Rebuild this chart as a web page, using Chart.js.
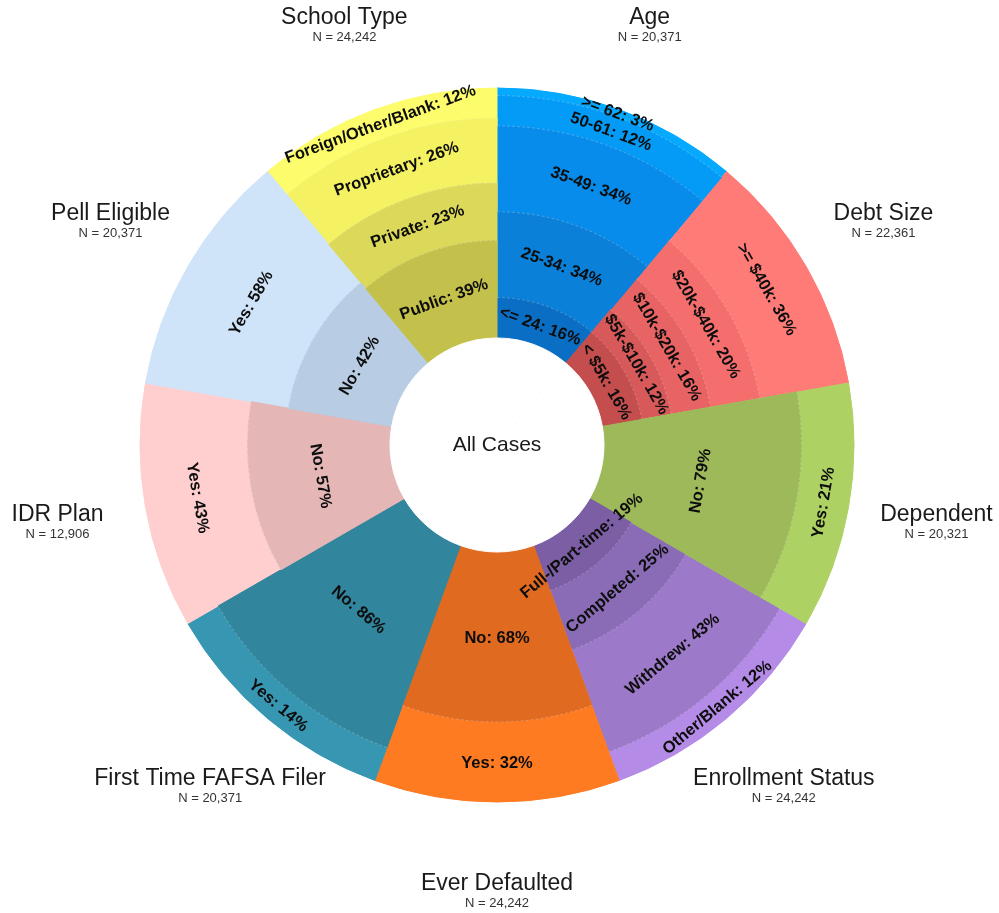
<!DOCTYPE html>
<html>
<head>
<meta charset="utf-8">
<script src="https://cdn.jsdelivr.net/npm/chart.js@4.4.0/dist/chart.umd.min.js"></script>
<style>
  html, body { margin: 0; padding: 0; background: #fff; }
  #wrap { width: 999px; height: 913px; }
</style>
</head>
<body>
<div id="wrap"><canvas id="chart" width="999" height="913"></canvas></div>
<script>
// categories go clockwise from 12 o'clock, each gets 40 degrees
const categories = ["Age", "Debt Size", "Dependent", "Enrollment Status", "Ever Defaulted",
  "First Time FAFSA Filer", "IDR Plan", "Pell Eligible", "School Type"];
const sampleSizes = ["20,371", "22,361", "20,321", "24,242", "24,242", "20,371", "12,906", "20,371", "24,242"];

// levels inside each wedge, innermost first
const ageLevels = ["<= 24", "25-34", "35-49", "50-61", ">= 62"];
const agePct = [16, 34, 34, 12, 3];
const debtLevels = ["< $5k", "$5k-$10k", "$10k-$20k", "$20k-$40k", ">= $40k"];
const debtPct = [16, 12, 16, 20, 36];
const dependentLevels = ["No", "Yes"];
const dependentPct = [79, 21];
const enrollmentLevels = ["Full-/Part-time", "Completed", "Withdrew", "Other/Blank"];
const enrollmentPct = [19, 25, 43, 12];
const defaultedLevels = ["No", "Yes"];
const defaultedPct = [68, 32];
const fafsaLevels = ["No", "Yes"];
const fafsaPct = [86, 14];
const idrLevels = ["No", "Yes"];
const idrPct = [57, 43];
const pellLevels = ["No", "Yes"];
const pellPct = [42, 58];
const schoolLevels = ["Public", "Private", "Proprietary", "Foreign/Other/Blank"];
const schoolPct = [39, 23, 26, 12];

const levelNames = [ageLevels, debtLevels, dependentLevels, enrollmentLevels, defaultedLevels,
  fafsaLevels, idrLevels, pellLevels, schoolLevels];
const levelPcts = [agePct, debtPct, dependentPct, enrollmentPct, defaultedPct,
  fafsaPct, idrPct, pellPct, schoolPct];

const palette = [
  ["#0a6fc4", "#0a80d8", "#078ceb", "#049bf6", "#05aaff"],
  ["#c44d4d", "#d75959", "#e86363", "#f56e6e", "#ff7b78"],
  ["#9db95a", "#aed163"],
  ["#7b5ea3", "#8a6bb6", "#9c7ac9", "#b48be6"],
  ["#e06b20", "#ff7b22"],
  ["#31859c", "#3797b3"],
  ["#e4b6b6", "#ffcfcf"],
  ["#b8cce4", "#cfe3f9"],
  ["#c4c04c", "#dcd95a", "#f4f262", "#fcfc6c"],
];

const FONT = "'Liberation Sans', Arial, sans-serif";
const maxLevels = 5;

// cumulative share (0-100) reached at the outer edge of each level
const cumulative = levelPcts.map(p => {
  const total = p.reduce((a, b) => a + b, 0);
  let run = 0;
  return p.map(v => { run += v; return run / total * 100; });
});

const datasets = [{
  // white hole in the middle
  data: categories.map(() => 0),
  backgroundColor: "#ffffff",
  borderColor: "#ffffff",
  borderWidth: 1,
}];
for (let k = 0; k < maxLevels; k++) {
  datasets.push({
    data: cumulative.map(c => (k < c.length ? c[k] : 0)),
    backgroundColor: palette.map((p, i) => (k < cumulative[i].length ? p[k] : "rgba(0,0,0,0)")),
    borderColor: palette.map((p, i) => (k < cumulative[i].length ? p[k] : "rgba(0,0,0,0)")),
    borderWidth: 1,
  });
}

const labelPlugin = {
  id: "sunLabels",
  afterDatasetsDraw(chart) {
    const ctx = chart.ctx;
    const scale = chart.scales.r;
    const step = 2 * Math.PI / categories.length;
    ctx.save();

    // faint rings between levels
    ctx.strokeStyle = "rgba(255,255,255,0.25)";
    ctx.lineWidth = 1;
    ctx.setLineDash([3, 2]);
    cumulative.forEach((c, i) => {
      const a0 = scale.getIndexAngle(i) - Math.PI / 2;
      c.slice(0, -1).forEach(v => {
        const r = scale.getDistanceFromCenterForValue(v);
        ctx.beginPath();
        ctx.arc(scale.xCenter, scale.yCenter, r, a0, a0 + step);
        ctx.stroke();
      });
    });
    ctx.setLineDash([]);

    // level labels
    ctx.fillStyle = "#0d0d0d";
    ctx.font = "bold 16.5px " + FONT;
    ctx.textAlign = "center";
    ctx.textBaseline = "middle";
    levelNames.forEach((names, i) => {
      const deg = (i + 0.5) * 360 / categories.length;
      let rot = deg;
      if (deg > 90 && deg < 270) rot = deg - 180;
      else if (deg >= 270) rot = deg - 360;
      names.forEach((name, k) => {
        const inner = k === 0 ? 0 : cumulative[i][k - 1];
        const mid = (inner + cumulative[i][k]) / 2;
        const p = scale.getPointPosition(i + 0.5, scale.getDistanceFromCenterForValue(mid));
        ctx.save();
        ctx.translate(p.x, p.y);
        ctx.rotate(rot * Math.PI / 180);
        ctx.fillText(name + ": " + levelPcts[i][k] + "%", 0, 1);
        ctx.restore();
      });
    });

    // category titles around the outside
    categories.forEach((cat, i) => {
      const p = scale.getPointPosition(i + 0.5, scale.drawingArea * 1.25);
      ctx.fillStyle = "#1a1a1a";
      ctx.font = "23px " + FONT;
      ctx.fillText(cat, p.x, p.y - 8);
      ctx.fillStyle = "#333";
      ctx.font = "13px " + FONT;
      ctx.fillText("N = " + sampleSizes[i], p.x, p.y + 12);
    });

    ctx.fillStyle = "#1a1a1a";
    ctx.font = "21px " + FONT;
    ctx.fillText("All Cases", scale.xCenter, scale.yCenter);
    ctx.restore();
  },
};

new Chart(document.getElementById("chart"), {
  type: "polarArea",
  data: { labels: categories, datasets: datasets },
  options: {
    responsive: false,
    animation: false,
    events: [],
    layout: { padding: { left: 140, right: 145, top: 88, bottom: 111 } },
    plugins: { legend: { display: false }, tooltip: { enabled: false } },
    scales: {
      r: {
        display: false,
        min: -42.8,
        max: 100,
        startAngle: 0,
        ticks: { display: false },
      },
    },
  },
  plugins: [labelPlugin],
});
</script>
</body>
</html>
